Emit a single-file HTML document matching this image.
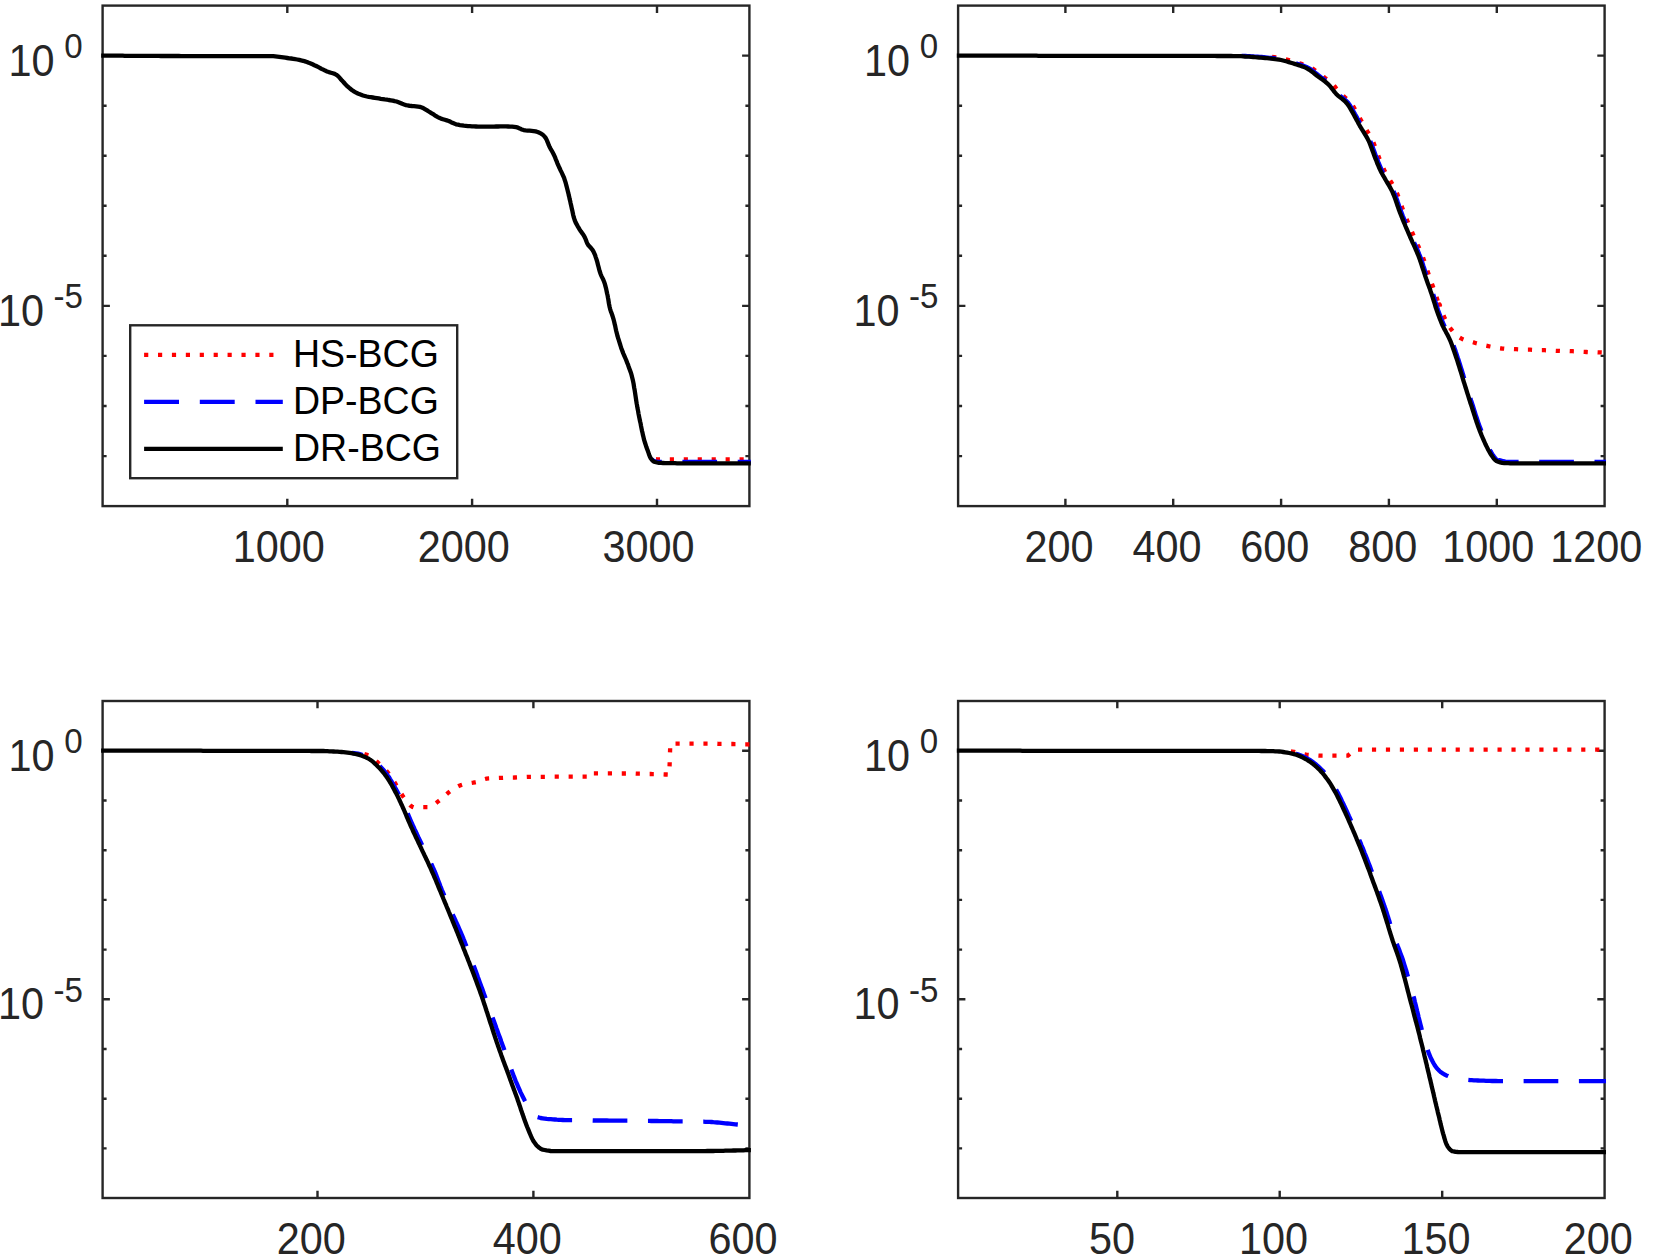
<!DOCTYPE html>
<html><head><meta charset="utf-8"><title>BCG convergence</title>
<style>html,body{margin:0;padding:0;background:#fff;overflow:hidden}body{width:1661px;height:1257px;position:relative}svg text{font-family:"Liberation Sans",Arial,Helvetica,sans-serif}</style>
</head><body>
<svg width="1661" height="1257" viewBox="0 0 1661 1257" style="display:block;position:absolute;left:0;top:0">
<rect width="1661" height="1257" fill="#fff"/>
<clipPath id="c0"><rect x="101.1" y="5.6" width="649.8" height="500.5"/></clipPath>
<path d="M287.3 506.1v-7.3M287.3 5.6v7.3M472.1 506.1v-7.3M472.1 5.6v7.3M657.0 506.1v-7.3M657.0 5.6v7.3M102.6 55.6h7.3M749.4 55.6h-7.3M102.6 105.7h4.0M749.4 105.7h-4.0M102.6 155.7h4.0M749.4 155.7h-4.0M102.6 205.8h4.0M749.4 205.8h-4.0M102.6 255.8h4.0M749.4 255.8h-4.0M102.6 305.9h7.3M749.4 305.9h-7.3M102.6 355.9h4.0M749.4 355.9h-4.0M102.6 406.0h4.0M749.4 406.0h-4.0M102.6 456.1h4.0M749.4 456.1h-4.0" stroke="#262626" stroke-width="2.40" fill="none"/>
<rect x="102.6" y="5.6" width="646.8" height="500.5" fill="none" stroke="#262626" stroke-width="2.40"/>
<g clip-path="url(#c0)" fill="none" stroke-width="4.30" stroke-linejoin="round">
<path d="M651.0 457.0 L652.7 458.2 L654.6 458.8 L656.7 459.2 L658.7 459.3 L660.7 459.3 L662.8 459.3 L664.8 459.3 L666.9 459.3 L668.9 459.3 L670.9 459.3 L673.0 459.3 L675.0 459.3 L677.0 459.3 L679.1 459.3 L681.1 459.3 L683.2 459.3 L685.2 459.3 L687.3 459.3 L689.3 459.3 L691.3 459.3 L693.4 459.3 L695.4 459.3 L697.5 459.3 L699.5 459.3 L701.6 459.3 L703.6 459.3 L705.7 459.3 L707.7 459.3 L709.8 459.3 L711.8 459.3 L713.9 459.3 L715.9 459.3 L718.0 459.3 L720.0 459.3 L722.1 459.3 L724.2 459.3 L726.2 459.3 L728.3 459.3 L730.3 459.3 L732.4 459.3 L734.5 459.3 L736.5 459.3 L738.6 459.3 L740.7 459.3 L742.7 459.3 L744.8 459.3 L746.9 459.3 L748.9 459.3 L749.4 459.3 L750.9 459.3" stroke="#f00" stroke-dasharray="4.17 9.78" stroke-dashoffset="8.59"/>
<path d="M651.5 459.0 L653.1 460.4 L654.9 461.3 L656.9 461.7 L658.9 462.0 L661.0 462.0 L663.0 462.0 L665.1 462.0 L667.1 462.0 L669.1 462.0 L671.2 462.0 L673.2 462.0 L675.2 462.0 L677.3 462.0 L679.3 462.0 L681.3 462.0 L683.4 462.0 L685.4 462.0 L687.4 462.0 L689.5 462.0 L691.5 462.0 L693.6 462.0 L695.6 462.0 L697.6 462.0 L699.7 462.0 L701.7 462.0 L703.8 462.0 L705.8 462.0 L707.9 462.0 L709.9 462.0 L712.0 462.0 L714.0 462.0 L716.1 462.0 L718.1 462.0 L720.1 462.0 L722.2 462.0 L724.3 462.0 L726.3 462.0 L728.4 462.0 L730.4 462.0 L732.5 462.0 L734.5 462.0 L736.6 462.0 L738.6 462.0 L740.7 462.0 L742.8 462.0 L744.8 462.0 L746.9 462.0 L748.9 462.0 L749.4 462.0 L750.9 462.0" stroke="#00f" stroke-dasharray="34.7 20.6" stroke-dashoffset="23.60"/>
<path d="M101.1 55.6 L102.6 55.6 L104.6 55.6 L106.6 55.6 L108.6 55.6 L110.6 55.7 L112.6 55.7 L114.7 55.7 L116.7 55.7 L118.7 55.7 L120.7 55.7 L122.7 55.7 L124.7 55.8 L126.7 55.8 L128.7 55.8 L130.7 55.8 L132.7 55.8 L134.7 55.8 L136.7 55.8 L138.8 55.8 L140.8 55.9 L142.8 55.9 L144.8 55.9 L146.8 55.9 L148.8 55.9 L150.8 55.9 L152.8 55.9 L154.8 55.9 L156.8 55.9 L158.8 55.9 L160.8 56.0 L162.9 56.0 L164.9 56.0 L166.9 56.0 L168.9 56.0 L170.9 56.0 L172.9 56.0 L174.9 56.0 L176.9 56.0 L178.9 56.0 L180.9 56.1 L182.9 56.1 L185.0 56.1 L187.0 56.1 L189.0 56.1 L191.0 56.1 L193.0 56.1 L195.0 56.1 L197.0 56.1 L199.0 56.1 L201.0 56.1 L203.0 56.1 L205.0 56.1 L207.1 56.1 L209.1 56.1 L211.1 56.1 L213.1 56.1 L215.1 56.1 L217.1 56.1 L219.1 56.1 L221.1 56.1 L223.1 56.1 L225.1 56.1 L227.2 56.1 L229.2 56.1 L231.2 56.1 L233.2 56.1 L235.2 56.1 L237.2 56.1 L239.2 56.1 L241.2 56.1 L243.2 56.1 L245.3 56.1 L247.3 56.1 L249.3 56.1 L251.3 56.1 L253.3 56.1 L255.3 56.1 L257.3 56.1 L259.3 56.1 L261.3 56.1 L263.3 56.1 L265.3 56.1 L267.3 56.1 L269.3 56.1 L271.3 56.1 L273.3 56.2 L275.3 56.4 L277.3 56.6 L279.3 56.8 L281.3 57.1 L283.3 57.4 L285.3 57.7 L287.3 58.0 L289.3 58.3 L291.3 58.5 L293.3 58.8 L295.3 59.2 L297.2 59.5 L299.2 59.9 L301.2 60.4 L303.1 60.8 L305.0 61.4 L306.9 62.0 L308.8 62.8 L310.7 63.5 L312.5 64.3 L314.4 65.2 L316.2 66.0 L318.0 66.9 L319.8 67.8 L321.5 68.8 L323.3 69.7 L325.1 70.6 L327.0 71.4 L328.9 72.1 L330.9 72.7 L332.8 73.3 L334.7 73.9 L336.4 74.8 L337.9 75.9 L339.3 77.4 L340.6 79.0 L342.0 80.6 L343.4 82.0 L344.7 83.5 L346.1 85.0 L347.5 86.4 L349.0 87.7 L350.6 89.0 L352.2 90.3 L353.9 91.4 L355.6 92.4 L357.3 93.2 L359.2 94.1 L361.1 94.8 L363.0 95.5 L364.9 96.0 L366.9 96.5 L368.8 96.9 L370.8 97.2 L372.8 97.5 L374.8 97.8 L376.8 98.1 L378.8 98.4 L380.8 98.8 L382.8 99.1 L384.8 99.4 L386.8 99.6 L388.7 100.0 L390.7 100.3 L392.7 100.6 L394.6 101.1 L396.6 101.5 L398.5 102.2 L400.4 103.0 L402.2 103.8 L404.1 104.5 L406.0 105.1 L408.0 105.5 L410.0 105.8 L412.0 106.0 L414.0 106.1 L416.0 106.3 L418.0 106.6 L419.9 106.9 L421.8 107.5 L423.6 108.3 L425.3 109.3 L427.1 110.4 L428.8 111.5 L430.6 112.6 L432.3 113.7 L434.0 114.7 L435.7 115.9 L437.4 116.9 L439.2 117.8 L441.0 118.6 L442.9 119.2 L444.8 119.8 L446.8 120.4 L448.7 121.0 L450.5 121.8 L452.3 122.8 L454.2 123.6 L456.0 124.3 L458.0 124.7 L459.9 125.1 L461.9 125.4 L463.9 125.7 L465.9 125.9 L467.9 126.1 L469.9 126.2 L471.9 126.3 L474.0 126.4 L476.0 126.5 L478.0 126.6 L480.0 126.6 L482.0 126.7 L484.0 126.7 L486.0 126.7 L488.0 126.7 L490.0 126.7 L492.0 126.6 L494.1 126.6 L496.1 126.5 L498.1 126.5 L500.1 126.4 L502.1 126.4 L504.1 126.4 L506.1 126.4 L508.1 126.5 L510.1 126.6 L512.2 126.7 L514.1 126.9 L516.1 127.2 L518.0 127.7 L519.9 128.6 L521.8 129.4 L523.7 130.1 L525.6 130.4 L527.6 130.6 L529.6 130.7 L531.6 130.9 L533.6 131.1 L535.6 131.4 L537.6 132.0 L539.5 132.8 L541.2 133.7 L542.8 134.8 L544.3 136.2 L545.6 137.9 L546.5 139.5 L547.3 141.4 L548.1 143.3 L548.8 145.2 L549.6 147.0 L550.6 148.8 L551.6 150.5 L552.6 152.3 L553.5 154.0 L554.4 155.9 L555.2 157.7 L555.9 159.6 L556.7 161.4 L557.4 163.3 L558.2 165.2 L559.0 167.0 L559.9 168.8 L560.7 170.6 L561.6 172.4 L562.5 174.3 L563.3 176.1 L564.1 177.9 L564.7 179.8 L565.3 181.7 L565.9 183.7 L566.4 185.6 L566.9 187.6 L567.4 189.5 L567.9 191.5 L568.4 193.4 L568.8 195.4 L569.3 197.3 L569.7 199.3 L570.2 201.2 L570.6 203.2 L571.1 205.2 L571.5 207.1 L571.9 209.1 L572.4 211.1 L572.8 213.0 L573.2 215.0 L573.7 217.0 L574.3 218.9 L574.9 220.7 L575.7 222.6 L576.7 224.4 L577.6 226.1 L578.7 227.9 L579.7 229.6 L580.8 231.3 L582.0 232.9 L583.2 234.6 L584.2 236.2 L585.1 238.0 L585.9 239.9 L586.6 241.8 L587.4 243.7 L588.4 245.3 L589.8 246.8 L591.2 248.3 L592.5 249.9 L593.5 251.6 L594.3 253.4 L595.1 255.2 L595.7 257.1 L596.4 259.1 L597.0 261.0 L597.5 262.9 L598.0 264.9 L598.5 266.8 L599.0 268.8 L599.5 270.7 L600.1 272.6 L600.8 274.5 L601.6 276.3 L602.5 278.2 L603.4 280.0 L604.1 281.8 L604.8 283.7 L605.3 285.6 L605.8 287.6 L606.3 289.6 L606.7 291.5 L607.1 293.5 L607.6 295.5 L607.9 297.4 L608.3 299.4 L608.6 301.4 L608.9 303.4 L609.3 305.4 L609.7 307.3 L610.2 309.3 L610.8 311.2 L611.5 313.1 L612.2 315.0 L612.8 316.9 L613.4 318.8 L613.9 320.7 L614.4 322.7 L614.8 324.6 L615.3 326.6 L615.7 328.6 L616.1 330.5 L616.6 332.5 L617.1 334.4 L617.6 336.4 L618.2 338.3 L618.8 340.2 L619.4 342.1 L620.0 344.0 L620.6 346.0 L621.2 347.9 L621.9 349.8 L622.6 351.6 L623.3 353.5 L624.1 355.4 L624.9 357.2 L625.7 359.0 L626.5 360.9 L627.2 362.8 L628.0 364.6 L628.6 366.5 L629.3 368.4 L630.0 370.3 L630.7 372.2 L631.3 374.1 L631.8 376.1 L632.3 378.0 L632.8 380.0 L633.2 381.9 L633.6 383.9 L633.9 385.9 L634.2 387.9 L634.6 389.8 L634.9 391.8 L635.2 393.8 L635.5 395.8 L635.8 397.8 L636.1 399.8 L636.4 401.8 L636.7 403.7 L637.1 405.7 L637.4 407.7 L637.8 409.7 L638.2 411.6 L638.5 413.6 L638.9 415.6 L639.3 417.6 L639.7 419.5 L640.1 421.5 L640.6 423.5 L640.9 425.4 L641.3 427.4 L641.7 429.4 L642.1 431.3 L642.6 433.3 L643.0 435.3 L643.5 437.2 L643.9 439.2 L644.5 441.1 L645.1 443.0 L645.7 444.9 L646.3 446.8 L647.0 448.7 L647.7 450.6 L648.4 452.5 L649.0 454.5 L649.8 456.4 L650.6 458.2 L651.8 459.7 L653.3 461.2 L655.0 462.0 L657.0 462.5 L659.0 462.9 L661.0 462.9 L663.0 463.0 L665.0 463.1 L667.0 463.1 L669.0 463.1 L671.0 463.2 L673.0 463.2 L675.0 463.2 L677.1 463.3 L679.1 463.3 L681.1 463.3 L683.1 463.3 L685.1 463.3 L687.1 463.3 L689.1 463.3 L691.1 463.3 L693.2 463.3 L695.2 463.3 L697.2 463.3 L699.2 463.3 L701.2 463.3 L703.2 463.3 L705.2 463.3 L707.2 463.3 L709.2 463.3 L711.2 463.3 L713.2 463.3 L715.3 463.3 L717.3 463.3 L719.3 463.3 L721.3 463.3 L723.3 463.3 L725.3 463.3 L727.3 463.3 L729.3 463.3 L731.3 463.3 L733.3 463.3 L735.3 463.3 L737.3 463.3 L739.4 463.3 L741.4 463.3 L743.4 463.3 L745.4 463.3 L747.4 463.3 L749.4 463.3 L750.9 463.3" stroke="#000"/>
</g>
<text transform="translate(232.8 562.0) scale(0.993 1.045)" font-size="41.67" fill="#262626">1000</text>
<text transform="translate(417.7 562.0) scale(0.993 1.045)" font-size="41.67" fill="#262626">2000</text>
<text transform="translate(602.5 562.0) scale(0.993 1.045)" font-size="41.67" fill="#262626">3000</text>
<text transform="translate(64.2 58.1) scale(0.993 1.045)" font-size="33.33" fill="#262626">0</text>
<text transform="translate(8.5 75.5) scale(0.993 1.045)" font-size="41.67" fill="#262626">10</text>
<text transform="translate(53.6 308.4) scale(0.993 1.045)" font-size="33.33" fill="#262626">-5</text>
<text transform="translate(-2.1 325.8) scale(0.993 1.045)" font-size="41.67" fill="#262626">10</text>
<clipPath id="c1"><rect x="956.6" y="5.6" width="649.5" height="500.5"/></clipPath>
<path d="M1065.4 506.1v-7.3M1065.4 5.6v7.3M1173.2 506.1v-7.3M1173.2 5.6v7.3M1281.1 506.1v-7.3M1281.1 5.6v7.3M1388.9 506.1v-7.3M1388.9 5.6v7.3M1496.8 506.1v-7.3M1496.8 5.6v7.3M958.1 55.6h7.3M1604.6 55.6h-7.3M958.1 105.7h4.0M1604.6 105.7h-4.0M958.1 155.7h4.0M1604.6 155.7h-4.0M958.1 205.8h4.0M1604.6 205.8h-4.0M958.1 255.8h4.0M1604.6 255.8h-4.0M958.1 305.9h7.3M1604.6 305.9h-7.3M958.1 355.9h4.0M1604.6 355.9h-4.0M958.1 406.0h4.0M1604.6 406.0h-4.0M958.1 456.1h4.0M1604.6 456.1h-4.0" stroke="#262626" stroke-width="2.40" fill="none"/>
<rect x="958.1" y="5.6" width="646.5" height="500.5" fill="none" stroke="#262626" stroke-width="2.40"/>
<g clip-path="url(#c1)" fill="none" stroke-width="4.30" stroke-linejoin="round">
<path d="M1270.0 56.8 L1272.0 57.0 L1274.0 57.2 L1276.0 57.5 L1278.0 57.8 L1280.0 58.2 L1282.0 58.5 L1283.9 58.9 L1285.9 59.4 L1287.8 59.9 L1289.8 60.4 L1291.7 60.9 L1293.7 61.5 L1295.6 62.1 L1297.5 62.7 L1299.4 63.3 L1301.4 63.9 L1303.3 64.5 L1305.2 65.1 L1307.1 65.8 L1309.0 66.6 L1310.7 67.5 L1312.4 68.5 L1314.1 69.6 L1315.7 70.8 L1317.3 72.1 L1318.9 73.3 L1320.5 74.6 L1322.1 75.8 L1323.8 77.0 L1325.4 78.2 L1327.1 79.4 L1328.7 80.6 L1330.2 81.8 L1331.7 83.2 L1333.1 84.6 L1334.4 86.1 L1335.7 87.7 L1336.9 89.3 L1338.1 90.9 L1339.4 92.5 L1340.8 93.9 L1342.3 95.2 L1343.9 96.5 L1345.5 97.8 L1347.1 99.1 L1348.6 100.4 L1350.0 101.8 L1351.2 103.3 L1352.4 105.0 L1353.4 106.7 L1354.4 108.4 L1355.4 110.2 L1356.4 112.0 L1357.4 113.7 L1358.4 115.5 L1359.4 117.3 L1360.3 119.0 L1361.3 120.8 L1362.2 122.6 L1363.2 124.4 L1364.2 126.1 L1365.2 127.8 L1366.3 129.6 L1367.3 131.3 L1368.4 133.0 L1369.5 134.7 L1370.5 136.4 L1371.4 138.2 L1372.3 140.0 L1373.1 141.8 L1373.9 143.7 L1374.6 145.6 L1375.3 147.5 L1376.0 149.4 L1376.6 151.3 L1377.3 153.2 L1378.1 155.0 L1378.8 156.9 L1379.5 158.8 L1380.3 160.7 L1381.0 162.5 L1381.8 164.4 L1382.5 166.3 L1383.4 168.1 L1384.2 169.9 L1385.1 171.7 L1386.1 173.5 L1387.1 175.2 L1388.1 177.0 L1389.1 178.7 L1390.1 180.4 L1391.2 182.2 L1392.2 183.9 L1393.2 185.7 L1394.2 187.4 L1395.2 189.2 L1396.0 191.0 L1396.8 192.8 L1397.6 194.7 L1398.3 196.5 L1399.0 198.4 L1399.6 200.3 L1400.3 202.2 L1401.0 204.2 L1401.6 206.1 L1402.3 208.0 L1403.0 209.9 L1403.7 211.8 L1404.4 213.7 L1405.1 215.5 L1405.9 217.4 L1406.6 219.2 L1407.4 221.1 L1408.2 223.0 L1409.0 224.8 L1409.8 226.7 L1410.6 228.5 L1411.3 230.4 L1412.1 232.2 L1412.9 234.1 L1413.7 235.9 L1414.5 237.8 L1415.3 239.6 L1416.2 241.5 L1417.0 243.3 L1417.8 245.1 L1418.7 247.0 L1419.5 248.8 L1420.3 250.6 L1421.1 252.5 L1421.8 254.4 L1422.6 256.2 L1423.2 258.1 L1423.9 260.0 L1424.6 261.9 L1425.2 263.8 L1425.8 265.7 L1426.4 267.7 L1427.0 269.6 L1427.7 271.5 L1428.3 273.4 L1428.9 275.3 L1429.6 277.2 L1430.2 279.1 L1430.9 281.0 L1431.6 282.9 L1432.3 284.8 L1433.0 286.7 L1433.7 288.6 L1434.3 290.5 L1435.0 292.4 L1435.6 294.3 L1436.3 296.5 L1437.1 299.0 L1437.9 301.6 L1438.7 304.0 L1439.3 306.1 L1439.8 307.7 L1440.1 308.6 L1440.0 308.1 L1439.7 305.3 L1439.6 304.5 L1439.9 305.3 L1440.4 306.9 L1441.2 309.0 L1442.0 311.4 L1442.9 313.9 L1443.9 316.3 L1444.7 318.3 L1445.6 320.1 L1446.5 321.9 L1447.5 323.7 L1448.5 325.5 L1449.6 327.2 L1450.8 328.8 L1452.0 330.3 L1453.3 331.9 L1454.7 333.4 L1456.2 334.8 L1457.8 336.2 L1459.4 337.4 L1461.1 338.4 L1462.8 339.2 L1464.6 339.9 L1466.5 340.6 L1468.5 341.1 L1470.5 341.7 L1472.5 342.2 L1474.5 342.7 L1476.4 343.3 L1478.4 343.8 L1480.3 344.3 L1482.3 344.8 L1484.2 345.3 L1486.2 345.7 L1488.1 346.1 L1490.1 346.5 L1492.1 346.9 L1494.1 347.3 L1496.1 347.7 L1498.0 348.0 L1500.0 348.3 L1502.0 348.5 L1504.0 348.6 L1506.0 348.8 L1508.1 348.9 L1510.1 349.0 L1512.1 349.0 L1514.1 349.1 L1516.1 349.2 L1518.1 349.3 L1520.1 349.4 L1522.1 349.4 L1524.2 349.5 L1526.2 349.6 L1528.2 349.6 L1530.2 349.7 L1532.2 349.8 L1534.2 349.9 L1536.2 349.9 L1538.2 350.0 L1540.2 350.1 L1542.3 350.1 L1544.3 350.2 L1546.3 350.3 L1548.3 350.4 L1550.3 350.5 L1552.3 350.6 L1554.3 350.7 L1556.3 350.8 L1558.3 350.8 L1560.4 350.9 L1562.4 350.9 L1564.4 351.0 L1566.4 351.0 L1568.4 351.1 L1570.4 351.2 L1572.4 351.2 L1574.4 351.3 L1576.4 351.5 L1578.5 351.6 L1580.5 351.7 L1582.5 351.8 L1584.5 351.9 L1586.5 352.0 L1588.5 352.1 L1590.5 352.2 L1592.5 352.2 L1594.5 352.3 L1596.6 352.3 L1598.6 352.4 L1600.6 352.4 L1602.6 352.5 L1604.6 352.6 L1606.1 352.6" stroke="#f00" stroke-dasharray="4.17 9.78" stroke-dashoffset="11.89"/>
<path d="M1237.4 55.6 L1239.4 55.7 L1241.4 55.8 L1243.4 55.9 L1245.4 56.0 L1247.5 56.1 L1249.5 56.2 L1251.5 56.3 L1253.5 56.5 L1255.5 56.6 L1257.5 56.7 L1259.5 56.9 L1261.5 57.0 L1263.5 57.2 L1265.5 57.4 L1267.5 57.6 L1269.6 57.8 L1271.6 58.0 L1273.6 58.2 L1275.5 58.4 L1277.5 58.7 L1279.5 59.0 L1281.5 59.3 L1283.4 59.7 L1285.4 60.2 L1287.3 60.8 L1289.3 61.4 L1291.2 62.0 L1293.1 62.6 L1295.1 63.2 L1297.0 63.7 L1298.9 64.3 L1300.9 64.9 L1302.8 65.6 L1304.7 66.3 L1306.5 67.0 L1308.3 67.9 L1310.0 68.9 L1311.7 70.0 L1313.3 71.2 L1314.9 72.5 L1316.5 73.7 L1318.1 75.0 L1319.7 76.2 L1321.3 77.4 L1323.0 78.6 L1324.6 79.8 L1326.2 81.0 L1327.8 82.2 L1329.3 83.6 L1330.7 84.9 L1332.0 86.5 L1333.3 88.1 L1334.5 89.7 L1335.7 91.3 L1337.0 92.8 L1338.4 94.3 L1339.9 95.6 L1341.5 96.9 L1343.1 98.2 L1344.7 99.5 L1346.2 100.8 L1347.6 102.2 L1348.8 103.7 L1350.0 105.3 L1351.0 107.0 L1352.0 108.8 L1353.0 110.6 L1354.0 112.3 L1355.0 114.1 L1356.0 115.8 L1357.0 117.6 L1357.9 119.4 L1358.9 121.2 L1359.8 122.9 L1360.8 124.7 L1361.8 126.4 L1362.8 128.2 L1363.9 129.9 L1364.9 131.6 L1366.0 133.3 L1367.1 135.0 L1368.1 136.8 L1369.0 138.5 L1369.9 140.3 L1370.7 142.2 L1371.5 144.0 L1372.2 145.9 L1372.9 147.8 L1373.6 149.7 L1374.3 151.6 L1375.0 153.5 L1375.7 155.4 L1376.4 157.2 L1377.2 159.1 L1377.9 161.0 L1378.6 162.9 L1379.4 164.7 L1380.2 166.6 L1381.0 168.4 L1381.8 170.2 L1382.7 172.0 L1383.7 173.8 L1384.7 175.5 L1385.7 177.3 L1386.7 179.0 L1387.7 180.8 L1388.8 182.5 L1389.8 184.2 L1390.8 186.0 L1391.8 187.7 L1392.8 189.5 L1393.6 191.3 L1394.4 193.1 L1395.2 195.0 L1395.9 196.8 L1396.6 198.7 L1397.3 200.6 L1397.9 202.5 L1398.6 204.5 L1399.2 206.4 L1399.9 208.3 L1400.6 210.2 L1401.3 212.1 L1402.0 213.9 L1402.7 215.8 L1403.5 217.7 L1404.3 219.5 L1405.0 221.4 L1405.8 223.3 L1406.6 225.1 L1407.4 227.0 L1408.2 228.8 L1409.0 230.7 L1409.7 232.5 L1410.5 234.4 L1411.3 236.2 L1412.1 238.1 L1412.9 239.9 L1413.8 241.7 L1414.6 243.6 L1415.5 245.4 L1416.3 247.2 L1417.1 249.1 L1417.9 250.9 L1418.7 252.8 L1419.4 254.6 L1420.2 256.5 L1420.9 258.4 L1421.5 260.3 L1422.2 262.2 L1422.8 264.1 L1423.4 266.0 L1424.1 267.9 L1424.7 269.8 L1425.3 271.8 L1425.9 273.7 L1426.5 275.6 L1427.2 277.5 L1427.9 279.4 L1428.5 281.3 L1429.2 283.2 L1429.9 285.1 L1430.6 287.0 L1431.3 288.9 L1432.0 290.8 L1432.6 292.7 L1433.3 294.6 L1433.9 296.5 L1434.5 298.4 L1435.0 300.3 L1435.6 302.3 L1436.2 304.2 L1436.8 306.1 L1437.4 308.0 L1438.0 309.9 L1438.7 311.8 L1439.4 313.7 L1440.1 315.6 L1440.8 317.5 L1441.5 319.4 L1442.3 321.2 L1443.1 323.1 L1443.9 324.9 L1444.7 326.7 L1445.7 328.5 L1446.6 330.3 L1447.6 332.1 L1448.5 333.9 L1449.4 335.7 L1450.3 337.5 L1451.2 339.3 L1451.9 341.1 L1452.7 343.0 L1453.4 344.9 L1454.0 346.8 L1454.7 348.7 L1455.4 350.6 L1456.0 352.5 L1456.7 354.4 L1457.3 356.3 L1457.9 358.2 L1458.6 360.1 L1459.2 362.1 L1459.8 364.0 L1460.4 365.9 L1461.0 367.8 L1461.6 369.7 L1462.2 371.7 L1462.8 373.6 L1463.3 375.5 L1463.9 377.4 L1464.5 379.4 L1465.1 381.3 L1465.7 383.2 L1466.3 385.1 L1466.9 387.0 L1467.5 389.0 L1468.1 390.9 L1468.7 392.8 L1469.3 394.7 L1469.9 396.6 L1470.5 398.6 L1471.1 400.5 L1471.8 402.4 L1472.4 404.3 L1473.0 406.2 L1473.6 408.1 L1474.2 410.1 L1474.8 412.0 L1475.4 413.9 L1476.0 415.8 L1476.7 417.7 L1477.3 419.7 L1477.9 421.6 L1478.6 423.5 L1479.3 425.4 L1480.0 427.2 L1480.7 429.1 L1481.4 431.0 L1482.1 432.9 L1482.9 434.8 L1483.6 436.6 L1484.4 438.5 L1485.2 440.3 L1486.1 442.2 L1486.9 444.0 L1487.8 445.8 L1488.7 447.6 L1489.6 449.4 L1490.6 451.2 L1491.6 452.9 L1492.7 454.6 L1493.8 456.2 L1495.2 458.1 L1496.7 459.9 L1498.0 460.7 L1499.2 460.1 L1501.1 460.6 L1503.2 461.2 L1505.4 461.6 L1507.4 461.8 L1509.4 461.8 L1511.4 461.9 L1513.4 461.9 L1515.4 462.0 L1517.5 462.0 L1519.5 462.0 L1521.5 462.0 L1523.5 462.0 L1525.5 462.0 L1527.5 462.0 L1529.5 462.0 L1531.6 462.0 L1533.6 462.0 L1535.6 462.0 L1537.6 462.0 L1539.6 462.0 L1541.6 462.0 L1543.6 462.0 L1545.6 462.0 L1547.6 462.0 L1549.7 462.0 L1551.7 462.0 L1553.7 462.0 L1555.7 462.0 L1557.7 462.0 L1559.7 462.0 L1561.7 462.0 L1563.7 462.0 L1565.8 462.0 L1567.8 462.0 L1569.8 462.0 L1571.8 462.0 L1573.8 462.0 L1575.8 462.0 L1577.8 462.0 L1579.8 462.0 L1581.9 462.0 L1583.9 462.0 L1585.9 462.0 L1587.9 462.0 L1589.9 462.0 L1591.9 462.0 L1593.9 462.0 L1595.9 462.0 L1598.0 462.0 L1600.0 462.0 L1602.0 462.0 L1604.0 462.0 L1604.6 462.0 L1606.1 462.0" stroke="#00f" stroke-dasharray="34.7 20.6" stroke-dashoffset="51.22"/>
<path d="M956.6 55.7 L958.1 55.7 L960.1 55.7 L962.1 55.7 L964.1 55.7 L966.1 55.7 L968.1 55.7 L970.1 55.7 L972.2 55.7 L974.2 55.7 L976.2 55.7 L978.2 55.7 L980.2 55.7 L982.2 55.7 L984.2 55.7 L986.2 55.7 L988.2 55.7 L990.2 55.7 L992.2 55.7 L994.2 55.7 L996.2 55.7 L998.2 55.7 L1000.3 55.7 L1002.3 55.7 L1004.3 55.7 L1006.3 55.7 L1008.3 55.7 L1010.3 55.7 L1012.3 55.7 L1014.3 55.7 L1016.3 55.7 L1018.3 55.7 L1020.3 55.7 L1022.3 55.7 L1024.3 55.7 L1026.3 55.7 L1028.4 55.7 L1030.4 55.7 L1032.4 55.7 L1034.4 55.7 L1036.4 55.7 L1038.4 55.8 L1040.4 55.8 L1042.4 55.8 L1044.4 55.8 L1046.4 55.8 L1048.4 55.8 L1050.4 55.8 L1052.4 55.8 L1054.5 55.8 L1056.5 55.8 L1058.5 55.8 L1060.5 55.8 L1062.5 55.8 L1064.5 55.8 L1066.5 55.8 L1068.5 55.8 L1070.5 55.8 L1072.5 55.8 L1074.5 55.8 L1076.5 55.8 L1078.5 55.8 L1080.5 55.8 L1082.6 55.8 L1084.6 55.8 L1086.6 55.8 L1088.6 55.8 L1090.6 55.8 L1092.6 55.8 L1094.6 55.8 L1096.6 55.8 L1098.6 55.8 L1100.6 55.8 L1102.6 55.8 L1104.6 55.8 L1106.6 55.8 L1108.7 55.8 L1110.7 55.8 L1112.7 55.8 L1114.7 55.8 L1116.7 55.8 L1118.7 55.8 L1120.7 55.8 L1122.7 55.8 L1124.7 55.8 L1126.7 55.8 L1128.7 55.8 L1130.7 55.8 L1132.7 55.8 L1134.7 55.8 L1136.8 55.8 L1138.8 55.8 L1140.8 55.8 L1142.8 55.8 L1144.8 55.8 L1146.8 55.8 L1148.8 55.8 L1150.8 55.8 L1152.8 55.8 L1154.8 55.8 L1156.8 55.8 L1158.8 55.8 L1160.8 55.8 L1162.8 55.8 L1164.9 55.9 L1166.9 55.9 L1168.9 55.9 L1170.9 55.9 L1172.9 55.9 L1174.9 55.9 L1176.9 55.9 L1178.9 55.9 L1180.9 55.9 L1182.9 55.9 L1184.9 55.9 L1186.9 55.9 L1188.9 55.9 L1191.0 55.9 L1193.0 55.9 L1195.0 55.9 L1197.0 55.9 L1199.0 55.9 L1201.0 55.9 L1203.0 55.9 L1205.0 55.9 L1207.0 55.9 L1209.0 55.9 L1211.0 55.9 L1213.0 55.9 L1215.0 55.9 L1217.0 56.0 L1219.1 56.0 L1221.1 56.0 L1223.1 56.0 L1225.1 56.0 L1227.1 56.0 L1229.1 56.0 L1231.1 56.0 L1233.1 56.1 L1235.1 56.1 L1237.1 56.1 L1239.1 56.2 L1241.1 56.2 L1243.1 56.3 L1245.1 56.5 L1247.1 56.6 L1249.1 56.7 L1251.2 56.9 L1253.2 57.0 L1255.2 57.2 L1257.2 57.3 L1259.2 57.5 L1261.2 57.6 L1263.2 57.8 L1265.2 58.0 L1267.2 58.1 L1269.2 58.4 L1271.2 58.6 L1273.2 58.8 L1275.2 59.1 L1277.1 59.3 L1279.1 59.6 L1281.1 60.0 L1283.0 60.5 L1285.0 61.0 L1286.9 61.5 L1288.8 62.1 L1290.8 62.7 L1292.7 63.3 L1294.6 63.9 L1296.5 64.5 L1298.5 65.1 L1300.4 65.7 L1302.3 66.4 L1304.2 67.1 L1306.0 67.9 L1307.7 68.8 L1309.4 69.8 L1311.0 71.0 L1312.7 72.2 L1314.3 73.5 L1315.8 74.7 L1317.4 76.0 L1319.1 77.2 L1320.7 78.4 L1322.4 79.5 L1324.0 80.7 L1325.6 82.0 L1327.1 83.2 L1328.6 84.6 L1329.9 86.0 L1331.2 87.6 L1332.4 89.2 L1333.6 90.8 L1334.9 92.4 L1336.2 93.9 L1337.6 95.3 L1339.2 96.6 L1340.8 97.9 L1342.4 99.1 L1343.9 100.4 L1345.4 101.8 L1346.7 103.2 L1347.9 104.8 L1349.0 106.4 L1350.1 108.1 L1351.1 109.9 L1352.1 111.7 L1353.1 113.4 L1354.1 115.2 L1355.0 116.9 L1356.0 118.7 L1356.9 120.5 L1357.9 122.2 L1358.8 124.0 L1359.8 125.8 L1360.8 127.5 L1361.8 129.2 L1362.9 130.9 L1364.0 132.7 L1365.0 134.4 L1366.1 136.1 L1367.1 137.8 L1368.0 139.6 L1368.9 141.4 L1369.7 143.2 L1370.4 145.1 L1371.1 146.9 L1371.8 148.8 L1372.5 150.7 L1373.2 152.6 L1373.9 154.5 L1374.6 156.4 L1375.3 158.3 L1376.1 160.1 L1376.8 162.0 L1377.5 163.9 L1378.3 165.7 L1379.1 167.6 L1379.9 169.4 L1380.8 171.2 L1381.7 173.0 L1382.7 174.8 L1383.7 176.5 L1384.7 178.2 L1385.7 180.0 L1386.7 181.7 L1387.7 183.4 L1388.8 185.2 L1389.8 186.9 L1390.8 188.7 L1391.7 190.4 L1392.5 192.2 L1393.3 194.1 L1394.1 195.9 L1394.8 197.8 L1395.5 199.7 L1396.1 201.6 L1396.8 203.5 L1397.4 205.4 L1398.1 207.3 L1398.7 209.2 L1399.4 211.1 L1400.1 213.0 L1400.9 214.8 L1401.6 216.7 L1402.4 218.6 L1403.1 220.4 L1403.9 222.3 L1404.7 224.1 L1405.4 226.0 L1406.2 227.8 L1407.0 229.7 L1407.8 231.5 L1408.6 233.4 L1409.4 235.2 L1410.2 237.1 L1411.0 238.9 L1411.8 240.7 L1412.6 242.6 L1413.5 244.4 L1414.3 246.2 L1415.1 248.0 L1415.9 249.9 L1416.7 251.7 L1417.5 253.6 L1418.3 255.4 L1419.0 257.3 L1419.7 259.2 L1420.3 261.1 L1421.0 263.0 L1421.6 264.9 L1422.2 266.8 L1422.8 268.7 L1423.5 270.6 L1424.1 272.5 L1424.7 274.4 L1425.3 276.3 L1426.0 278.2 L1426.6 280.1 L1427.3 282.0 L1428.0 283.9 L1428.7 285.8 L1429.4 287.7 L1430.1 289.6 L1430.7 291.5 L1431.4 293.4 L1432.0 295.3 L1432.6 297.2 L1433.2 299.1 L1433.8 301.0 L1434.4 303.0 L1435.0 304.9 L1435.5 306.8 L1436.2 308.7 L1436.8 310.6 L1437.5 312.5 L1438.2 314.4 L1438.9 316.3 L1439.6 318.1 L1440.3 320.0 L1441.1 321.9 L1441.8 323.7 L1442.6 325.6 L1443.5 327.4 L1444.4 329.2 L1445.4 330.9 L1446.3 332.7 L1447.3 334.5 L1448.2 336.3 L1449.1 338.1 L1449.9 339.9 L1450.7 341.7 L1451.4 343.6 L1452.1 345.5 L1452.8 347.4 L1453.4 349.3 L1454.1 351.2 L1454.7 353.1 L1455.4 355.0 L1456.0 356.9 L1456.7 358.8 L1457.3 360.7 L1457.9 362.6 L1458.5 364.5 L1459.1 366.4 L1459.7 368.4 L1460.3 370.3 L1460.9 372.2 L1461.5 374.1 L1462.1 376.0 L1462.6 377.9 L1463.2 379.9 L1463.8 381.8 L1464.4 383.7 L1465.0 385.6 L1465.6 387.5 L1466.2 389.4 L1466.8 391.4 L1467.4 393.3 L1468.0 395.2 L1468.6 397.1 L1469.2 399.0 L1469.8 400.9 L1470.4 402.9 L1471.1 404.8 L1471.7 406.7 L1472.3 408.6 L1472.9 410.5 L1473.5 412.4 L1474.1 414.3 L1474.7 416.2 L1475.3 418.2 L1476.0 420.1 L1476.6 422.0 L1477.3 423.9 L1477.9 425.8 L1478.6 427.6 L1479.3 429.5 L1480.0 431.4 L1480.8 433.3 L1481.5 435.1 L1482.3 437.0 L1483.1 438.8 L1483.9 440.7 L1484.7 442.5 L1485.5 444.3 L1486.4 446.1 L1487.3 447.9 L1488.2 449.7 L1489.2 451.5 L1490.2 453.3 L1491.3 455.0 L1492.4 456.6 L1493.6 458.3 L1495.0 459.9 L1496.5 461.1 L1498.2 461.8 L1500.2 462.4 L1502.2 462.9 L1504.2 463.1 L1506.2 463.2 L1508.2 463.2 L1510.2 463.3 L1512.2 463.3 L1514.2 463.4 L1516.3 463.4 L1518.3 463.4 L1520.3 463.4 L1522.3 463.4 L1524.3 463.4 L1526.3 463.4 L1528.3 463.4 L1530.3 463.4 L1532.3 463.4 L1534.3 463.4 L1536.3 463.4 L1538.4 463.4 L1540.4 463.4 L1542.4 463.4 L1544.4 463.4 L1546.4 463.4 L1548.4 463.4 L1550.4 463.4 L1552.4 463.4 L1554.4 463.4 L1556.4 463.4 L1558.4 463.4 L1560.4 463.4 L1562.4 463.4 L1564.5 463.4 L1566.5 463.4 L1568.5 463.4 L1570.5 463.4 L1572.5 463.4 L1574.5 463.4 L1576.5 463.4 L1578.5 463.4 L1580.5 463.4 L1582.5 463.4 L1584.5 463.4 L1586.5 463.4 L1588.5 463.4 L1590.5 463.4 L1592.6 463.4 L1594.6 463.4 L1596.6 463.4 L1598.6 463.4 L1600.6 463.4 L1602.6 463.4 L1604.6 463.4 L1606.1 463.4" stroke="#000"/>
</g>
<text transform="translate(1024.6 562.0) scale(0.993 1.045)" font-size="41.67" fill="#262626">200</text>
<text transform="translate(1132.5 562.0) scale(0.993 1.045)" font-size="41.67" fill="#262626">400</text>
<text transform="translate(1240.3 562.0) scale(0.993 1.045)" font-size="41.67" fill="#262626">600</text>
<text transform="translate(1348.2 562.0) scale(0.993 1.045)" font-size="41.67" fill="#262626">800</text>
<text transform="translate(1442.3 562.0) scale(0.993 1.045)" font-size="41.67" fill="#262626">1000</text>
<text transform="translate(1550.2 562.0) scale(0.993 1.045)" font-size="41.67" fill="#262626">1200</text>
<text transform="translate(919.7 58.1) scale(0.993 1.045)" font-size="33.33" fill="#262626">0</text>
<text transform="translate(864.0 75.5) scale(0.993 1.045)" font-size="41.67" fill="#262626">10</text>
<text transform="translate(909.1 308.4) scale(0.993 1.045)" font-size="33.33" fill="#262626">-5</text>
<text transform="translate(853.4 325.8) scale(0.993 1.045)" font-size="41.67" fill="#262626">10</text>
<clipPath id="c2"><rect x="101.1" y="701.0" width="649.8" height="497.0"/></clipPath>
<path d="M317.5 1198.1v-7.3M317.5 701.0v7.3M533.4 1198.1v-7.3M533.4 701.0v7.3M102.6 750.8h7.3M749.4 750.8h-7.3M102.6 800.5h4.0M749.4 800.5h-4.0M102.6 850.2h4.0M749.4 850.2h-4.0M102.6 899.9h4.0M749.4 899.9h-4.0M102.6 949.6h4.0M749.4 949.6h-4.0M102.6 999.3h7.3M749.4 999.3h-7.3M102.6 1049.0h4.0M749.4 1049.0h-4.0M102.6 1098.7h4.0M749.4 1098.7h-4.0M102.6 1148.4h4.0M749.4 1148.4h-4.0" stroke="#262626" stroke-width="2.40" fill="none"/>
<rect x="102.6" y="701.0" width="646.8" height="497.0" fill="none" stroke="#262626" stroke-width="2.40"/>
<g clip-path="url(#c2)" fill="none" stroke-width="4.30" stroke-linejoin="round">
<path d="M355.0 752.5 L357.1 752.6 L359.2 752.9 L361.2 753.3 L363.2 753.7 L365.1 754.3 L366.9 754.9 L368.7 755.5 L370.4 756.4 L372.1 757.6 L373.8 758.8 L375.3 760.2 L376.9 761.6 L378.4 763.0 L379.9 764.4 L381.4 765.7 L382.9 767.1 L384.3 768.6 L385.7 770.1 L387.1 771.6 L388.3 773.1 L389.6 774.7 L390.7 776.3 L391.9 778.0 L392.9 779.7 L394.0 781.5 L395.1 783.2 L396.1 784.9 L397.2 786.6 L398.3 788.4 L399.3 790.2 L400.3 791.9 L401.3 793.7 L402.4 795.4 L403.5 797.0 L404.7 798.6 L406.0 800.4 L407.4 802.2 L408.9 804.0 L410.4 805.5 L411.9 806.6 L413.6 807.2 L415.3 807.2 L417.3 807.2 L419.3 807.2 L421.5 807.2 L423.6 807.2 L425.7 807.2 L427.7 807.2 L429.5 807.0 L431.3 806.3 L433.1 805.3 L434.9 804.0 L436.6 802.7 L438.2 801.4 L439.9 800.1 L441.5 798.9 L443.0 797.6 L444.5 796.2 L446.0 794.7 L447.5 793.4 L449.0 792.1 L450.6 790.9 L452.3 789.8 L454.0 788.6 L455.8 787.6 L457.6 786.6 L459.4 785.7 L461.2 785.0 L463.1 784.4 L465.1 784.0 L467.1 783.6 L469.1 783.3 L471.1 783.0 L473.1 782.7 L475.1 782.3 L477.1 781.9 L479.0 781.2 L480.9 780.5 L482.8 779.7 L484.7 779.1 L486.7 778.6 L488.7 778.4 L490.7 778.3 L492.7 778.1 L494.7 778.0 L496.7 777.9 L498.8 777.9 L500.8 777.8 L502.8 777.8 L504.8 777.7 L506.8 777.7 L508.9 777.6 L510.9 777.6 L512.9 777.6 L514.9 777.5 L517.0 777.4 L519.0 777.3 L521.0 777.2 L523.0 777.1 L525.0 777.0 L527.0 776.9 L529.1 776.9 L531.1 776.9 L533.1 776.9 L535.1 776.8 L537.1 776.8 L539.2 776.8 L541.2 776.8 L543.2 776.8 L545.2 776.8 L547.2 776.7 L549.3 776.7 L551.3 776.7 L553.3 776.7 L555.3 776.7 L557.4 776.7 L559.4 776.7 L561.4 776.7 L563.4 776.7 L565.4 776.6 L567.5 776.6 L569.5 776.6 L571.5 776.6 L573.5 776.6 L575.5 776.6 L577.6 776.6 L579.6 776.6 L581.6 776.6 L583.6 776.6 L585.7 776.6 L587.7 776.6 L589.7 776.6 L590.3 773.4 L592.4 773.4 L594.5 773.4 L596.5 773.4 L598.6 773.4 L600.7 773.4 L602.8 773.4 L604.9 773.4 L606.9 773.4 L609.0 773.4 L611.1 773.4 L613.2 773.4 L615.3 773.4 L617.3 773.4 L619.4 773.4 L621.5 773.5 L623.6 773.5 L625.6 773.5 L627.7 773.5 L629.8 773.6 L631.9 773.6 L634.0 773.6 L636.0 773.7 L638.1 773.7 L640.2 773.7 L642.3 773.8 L644.4 773.8 L646.4 773.9 L648.5 774.0 L650.6 774.0 L652.7 774.1 L654.7 774.1 L656.8 774.2 L658.9 774.3 L661.0 774.3 L663.1 774.4 L665.1 774.5 L667.2 774.5 L669.3 774.6 L670.3 743.7 L672.4 743.7 L674.5 743.6 L676.5 743.6 L678.6 743.6 L680.7 743.6 L682.8 743.6 L684.9 743.6 L687.0 743.6 L689.0 743.6 L691.1 743.6 L693.2 743.6 L695.3 743.6 L697.4 743.6 L699.4 743.6 L701.5 743.6 L703.6 743.6 L705.7 743.7 L707.8 743.7 L709.8 743.7 L711.9 743.7 L714.0 743.7 L716.1 743.7 L718.2 743.8 L720.3 743.8 L722.3 743.8 L724.4 743.9 L726.5 743.9 L728.6 743.9 L730.7 744.0 L732.7 744.0 L734.8 744.1 L736.9 744.1 L739.0 744.2 L741.1 744.2 L743.2 744.3 L745.2 744.4 L747.3 744.4 L749.4 744.5 L750.9 744.5" stroke="#f00" stroke-dasharray="4.17 9.78" stroke-dashoffset="4.43"/>
<path d="M352.0 752.9 L354.0 753.1 L356.0 753.4 L358.0 753.7 L359.9 754.1 L361.9 754.7 L363.8 755.3 L365.7 756.0 L367.6 756.8 L369.4 757.7 L371.1 758.6 L372.7 759.7 L374.3 760.9 L375.9 762.3 L377.4 763.7 L378.8 765.1 L380.2 766.5 L381.6 768.0 L383.0 769.5 L384.3 771.0 L385.5 772.6 L386.8 774.2 L387.9 775.8 L389.1 777.4 L390.1 779.1 L391.2 780.8 L392.2 782.6 L393.2 784.3 L394.2 786.1 L395.2 787.8 L396.2 789.6 L397.1 791.3 L398.1 793.1 L399.0 794.9 L399.9 796.7 L400.8 798.5 L401.7 800.3 L402.6 802.1 L403.5 803.9 L404.3 805.7 L405.1 807.5 L405.9 809.4 L406.7 811.2 L407.5 813.1 L408.3 814.9 L409.1 816.8 L409.9 818.6 L410.7 820.5 L411.5 822.3 L412.3 824.1 L413.1 826.0 L414.0 827.8 L414.8 829.6 L415.7 831.4 L416.5 833.3 L417.4 835.1 L418.2 836.9 L419.1 838.7 L419.9 840.5 L420.8 842.3 L421.7 844.1 L422.5 846.0 L423.4 847.8 L424.3 849.6 L425.1 851.4 L426.0 853.2 L426.9 855.0 L427.8 856.8 L428.7 858.6 L429.6 860.4 L430.5 862.2 L431.3 864.0 L432.2 865.8 L433.0 867.7 L433.9 869.5 L434.7 871.3 L435.4 873.2 L436.2 875.0 L436.9 876.9 L437.6 878.8 L438.3 880.7 L439.0 882.6 L439.7 884.4 L440.4 886.3 L441.2 888.2 L441.9 890.0 L442.7 891.9 L443.5 893.7 L444.3 895.6 L445.1 897.4 L445.9 899.3 L446.7 901.1 L447.5 902.9 L448.3 904.8 L449.1 906.6 L450.0 908.4 L450.8 910.3 L451.6 912.1 L452.5 913.9 L453.3 915.7 L454.2 917.6 L455.0 919.4 L455.8 921.2 L456.7 923.1 L457.5 924.9 L458.3 926.7 L459.1 928.6 L459.9 930.4 L460.7 932.2 L461.5 934.1 L462.3 935.9 L463.1 937.8 L463.8 939.6 L464.6 941.5 L465.3 943.4 L466.0 945.2 L466.8 947.1 L467.5 949.0 L468.2 950.8 L468.9 952.7 L469.6 954.6 L470.3 956.5 L471.0 958.4 L471.7 960.2 L472.4 962.1 L473.1 964.0 L473.8 965.9 L474.5 967.8 L475.2 969.7 L475.9 971.6 L476.6 973.5 L477.3 975.3 L477.9 977.2 L478.6 979.1 L479.3 981.0 L480.0 982.9 L480.7 984.8 L481.4 986.7 L482.1 988.6 L482.8 990.4 L483.4 992.3 L484.1 994.2 L484.8 996.1 L485.5 998.0 L486.2 999.9 L486.9 1001.8 L487.6 1003.6 L488.3 1005.5 L488.9 1007.4 L489.6 1009.3 L490.3 1011.2 L491.0 1013.1 L491.7 1015.0 L492.3 1016.9 L493.0 1018.8 L493.7 1020.6 L494.4 1022.5 L495.1 1024.4 L495.8 1026.3 L496.4 1028.2 L497.1 1030.1 L497.8 1032.0 L498.5 1033.9 L499.2 1035.7 L499.9 1037.6 L500.6 1039.5 L501.2 1041.4 L501.9 1043.3 L502.6 1045.2 L503.3 1047.1 L504.0 1049.0 L504.6 1050.9 L505.3 1052.8 L506.0 1054.7 L506.6 1056.6 L507.3 1058.5 L508.0 1060.3 L508.6 1062.2 L509.3 1064.1 L510.0 1066.0 L510.7 1067.9 L511.4 1069.8 L512.1 1071.7 L512.8 1073.6 L513.5 1075.4 L514.3 1077.3 L515.0 1079.2 L515.7 1081.0 L516.5 1082.9 L517.3 1084.7 L518.1 1086.6 L518.9 1088.4 L519.7 1090.2 L520.5 1092.1 L521.4 1093.9 L522.3 1095.7 L523.2 1097.5 L524.1 1099.3 L525.0 1101.1 L525.9 1102.9 L526.8 1104.7 L527.8 1106.5 L528.8 1108.3 L529.8 1109.9 L531.0 1111.5 L532.3 1113.1 L533.8 1114.6 L535.4 1116.0 L537.0 1117.0 L538.8 1117.5 L540.6 1118.0 L542.6 1118.3 L544.7 1118.6 L546.8 1118.9 L548.8 1119.1 L550.8 1119.2 L552.8 1119.4 L554.8 1119.5 L556.8 1119.7 L558.8 1119.8 L560.8 1119.9 L562.8 1120.0 L564.8 1120.1 L566.9 1120.1 L568.9 1120.2 L570.9 1120.2 L572.9 1120.2 L574.9 1120.3 L576.9 1120.3 L578.9 1120.3 L580.9 1120.4 L582.9 1120.4 L584.9 1120.4 L586.9 1120.4 L588.9 1120.4 L590.9 1120.4 L592.9 1120.5 L595.0 1120.5 L597.0 1120.5 L599.0 1120.5 L601.0 1120.5 L603.0 1120.5 L605.0 1120.5 L607.0 1120.5 L609.0 1120.6 L611.0 1120.6 L613.0 1120.6 L615.0 1120.6 L617.0 1120.6 L619.1 1120.6 L621.1 1120.6 L623.1 1120.7 L625.1 1120.7 L627.1 1120.7 L629.1 1120.7 L631.1 1120.7 L633.1 1120.8 L635.1 1120.8 L637.1 1120.8 L639.1 1120.8 L641.1 1120.8 L643.1 1120.9 L645.2 1120.9 L647.2 1120.9 L649.2 1120.9 L651.2 1121.0 L653.2 1121.0 L655.2 1121.0 L657.2 1121.0 L659.2 1121.1 L661.2 1121.1 L663.2 1121.1 L665.2 1121.1 L667.2 1121.2 L669.3 1121.2 L671.3 1121.2 L673.3 1121.3 L675.3 1121.3 L677.3 1121.3 L679.3 1121.3 L681.3 1121.4 L683.3 1121.4 L685.3 1121.4 L687.3 1121.5 L689.3 1121.5 L691.3 1121.5 L693.3 1121.5 L695.4 1121.6 L697.4 1121.6 L699.4 1121.6 L701.4 1121.7 L703.4 1121.7 L705.4 1121.8 L707.4 1121.8 L709.4 1121.9 L711.4 1122.0 L713.4 1122.2 L715.4 1122.3 L717.4 1122.5 L719.4 1122.7 L721.4 1122.9 L723.4 1123.1 L725.4 1123.3 L727.4 1123.5 L729.4 1123.7 L731.4 1123.9 L733.4 1124.1 L735.4 1124.3 L737.4 1124.5 L739.4 1124.7 L741.4 1124.9 L743.4 1125.1 L745.4 1125.2 L747.4 1125.4 L749.4 1125.6 L750.9 1125.6" stroke="#00f" stroke-dasharray="34.7 20.6" stroke-dashoffset="23.71"/>
<path d="M101.1 750.7 L102.6 750.7 L104.6 750.7 L106.6 750.7 L108.6 750.7 L110.6 750.7 L112.6 750.7 L114.6 750.7 L116.7 750.7 L118.7 750.7 L120.7 750.7 L122.7 750.7 L124.7 750.7 L126.7 750.7 L128.7 750.7 L130.7 750.7 L132.7 750.7 L134.7 750.7 L136.7 750.7 L138.7 750.7 L140.7 750.7 L142.7 750.7 L144.8 750.7 L146.8 750.7 L148.8 750.7 L150.8 750.7 L152.8 750.7 L154.8 750.7 L156.8 750.7 L158.8 750.7 L160.8 750.7 L162.8 750.7 L164.8 750.7 L166.8 750.7 L168.8 750.7 L170.9 750.7 L172.9 750.7 L174.9 750.7 L176.9 750.7 L178.9 750.7 L180.9 750.7 L182.9 750.7 L184.9 750.7 L186.9 750.7 L188.9 750.7 L190.9 750.7 L192.9 750.7 L194.9 750.7 L196.9 750.7 L199.0 750.7 L201.0 750.7 L203.0 750.8 L205.0 750.8 L207.0 750.8 L209.0 750.8 L211.0 750.8 L213.0 750.8 L215.0 750.8 L217.0 750.8 L219.0 750.8 L221.0 750.8 L223.0 750.8 L225.1 750.8 L227.1 750.8 L229.1 750.8 L231.1 750.8 L233.1 750.8 L235.1 750.8 L237.1 750.8 L239.1 750.8 L241.1 750.8 L243.1 750.8 L245.1 750.8 L247.1 750.8 L249.1 750.8 L251.1 750.8 L253.2 750.8 L255.2 750.8 L257.2 750.8 L259.2 750.8 L261.2 750.8 L263.2 750.8 L265.2 750.8 L267.2 750.8 L269.2 750.8 L271.2 750.8 L273.2 750.8 L275.2 750.8 L277.2 750.8 L279.3 750.8 L281.3 750.8 L283.3 750.9 L285.3 750.9 L287.3 750.9 L289.3 750.9 L291.3 750.9 L293.3 750.9 L295.3 750.9 L297.3 750.9 L299.3 750.9 L301.3 750.9 L303.3 750.9 L305.4 750.9 L307.4 750.9 L309.4 750.9 L311.4 751.0 L313.4 751.0 L315.4 751.0 L317.4 751.0 L319.4 751.0 L321.4 751.0 L323.4 751.0 L325.4 751.1 L327.4 751.2 L329.4 751.3 L331.4 751.4 L333.5 751.5 L335.5 751.6 L337.5 751.7 L339.5 751.9 L341.5 752.0 L343.5 752.2 L345.5 752.4 L347.5 752.6 L349.5 752.9 L351.5 753.2 L353.4 753.6 L355.4 754.0 L357.3 754.4 L359.3 754.9 L361.2 755.5 L363.1 756.2 L365.0 756.9 L366.8 757.8 L368.6 758.7 L370.2 759.7 L371.8 760.9 L373.4 762.2 L374.9 763.6 L376.4 765.0 L377.8 766.4 L379.2 767.8 L380.6 769.3 L381.9 770.8 L383.2 772.4 L384.5 774.0 L385.7 775.6 L386.8 777.2 L387.9 778.9 L389.0 780.5 L390.1 782.3 L391.1 784.0 L392.1 785.8 L393.0 787.5 L394.0 789.3 L394.9 791.1 L395.9 792.8 L396.8 794.6 L397.7 796.4 L398.6 798.2 L399.4 800.0 L400.3 801.9 L401.1 803.7 L402.0 805.5 L402.8 807.3 L403.6 809.2 L404.4 811.0 L405.2 812.9 L406.0 814.7 L406.7 816.6 L407.5 818.4 L408.3 820.3 L409.1 822.1 L409.9 824.0 L410.7 825.8 L411.5 827.6 L412.4 829.4 L413.2 831.3 L414.0 833.1 L414.9 834.9 L415.7 836.7 L416.6 838.5 L417.5 840.4 L418.3 842.2 L419.2 844.0 L420.0 845.8 L420.9 847.6 L421.7 849.4 L422.6 851.3 L423.5 853.1 L424.3 854.9 L425.2 856.7 L426.0 858.5 L426.9 860.3 L427.8 862.1 L428.6 864.0 L429.4 865.8 L430.3 867.6 L431.1 869.4 L431.9 871.3 L432.7 873.1 L433.5 874.9 L434.3 876.8 L435.1 878.6 L435.9 880.5 L436.6 882.3 L437.4 884.2 L438.2 886.1 L438.9 887.9 L439.7 889.8 L440.5 891.6 L441.2 893.5 L442.0 895.3 L442.8 897.2 L443.5 899.0 L444.3 900.9 L445.1 902.8 L445.9 904.6 L446.6 906.5 L447.4 908.3 L448.2 910.2 L448.9 912.0 L449.7 913.9 L450.4 915.7 L451.2 917.6 L452.0 919.5 L452.7 921.3 L453.5 923.2 L454.2 925.0 L455.0 926.9 L455.8 928.7 L456.5 930.6 L457.3 932.5 L458.0 934.3 L458.8 936.2 L459.5 938.1 L460.2 939.9 L461.0 941.8 L461.7 943.7 L462.5 945.5 L463.2 947.4 L463.9 949.3 L464.7 951.1 L465.4 953.0 L466.1 954.9 L466.9 956.7 L467.6 958.6 L468.3 960.5 L469.1 962.3 L469.8 964.2 L470.5 966.1 L471.2 968.0 L472.0 969.8 L472.7 971.7 L473.4 973.6 L474.1 975.5 L474.8 977.3 L475.5 979.2 L476.2 981.1 L476.9 983.0 L477.6 984.9 L478.3 986.8 L479.0 988.6 L479.7 990.5 L480.3 992.4 L481.0 994.3 L481.7 996.2 L482.3 998.1 L483.0 1000.0 L483.6 1001.9 L484.2 1003.8 L484.9 1005.7 L485.5 1007.6 L486.1 1009.5 L486.7 1011.4 L487.4 1013.3 L488.0 1015.3 L488.6 1017.2 L489.2 1019.1 L489.8 1021.0 L490.4 1022.9 L491.1 1024.8 L491.7 1026.7 L492.3 1028.6 L492.9 1030.5 L493.5 1032.5 L494.2 1034.4 L494.8 1036.3 L495.4 1038.2 L496.1 1040.1 L496.7 1042.0 L497.4 1043.9 L498.0 1045.8 L498.7 1047.7 L499.3 1049.6 L500.0 1051.5 L500.7 1053.3 L501.3 1055.2 L502.0 1057.1 L502.7 1059.0 L503.4 1060.9 L504.1 1062.8 L504.8 1064.7 L505.5 1066.6 L506.2 1068.4 L506.9 1070.3 L507.6 1072.2 L508.3 1074.1 L509.0 1076.0 L509.7 1077.9 L510.3 1079.7 L511.0 1081.6 L511.7 1083.5 L512.4 1085.4 L513.1 1087.3 L513.8 1089.2 L514.5 1091.0 L515.2 1092.9 L515.9 1094.8 L516.6 1096.7 L517.3 1098.6 L517.9 1100.5 L518.6 1102.4 L519.2 1104.3 L519.9 1106.2 L520.5 1108.1 L521.1 1110.0 L521.8 1111.9 L522.4 1113.8 L523.1 1115.7 L523.7 1117.6 L524.4 1119.5 L525.1 1121.4 L525.8 1123.3 L526.5 1125.2 L527.2 1127.0 L528.0 1128.9 L528.7 1130.7 L529.5 1132.6 L530.3 1134.5 L531.1 1136.4 L532.0 1138.3 L532.9 1140.1 L533.9 1141.8 L535.0 1143.3 L536.2 1144.9 L537.7 1146.4 L539.3 1147.8 L541.0 1149.0 L542.7 1149.6 L544.5 1150.0 L546.5 1150.4 L548.5 1150.7 L550.6 1151.0 L552.7 1151.1 L554.7 1151.1 L556.7 1151.1 L558.7 1151.1 L560.7 1151.1 L562.7 1151.1 L564.7 1151.1 L566.7 1151.1 L568.7 1151.1 L570.7 1151.1 L572.7 1151.1 L574.7 1151.1 L576.7 1151.1 L578.7 1151.1 L580.7 1151.1 L582.7 1151.1 L584.7 1151.1 L586.7 1151.1 L588.7 1151.1 L590.7 1151.1 L592.7 1151.1 L594.7 1151.1 L596.7 1151.1 L598.7 1151.1 L600.7 1151.1 L602.7 1151.1 L604.7 1151.1 L606.8 1151.1 L608.8 1151.1 L610.8 1151.1 L612.8 1151.1 L614.8 1151.1 L616.8 1151.1 L618.8 1151.1 L620.8 1151.1 L622.8 1151.1 L624.8 1151.1 L626.9 1151.1 L628.9 1151.1 L630.9 1151.1 L632.9 1151.1 L634.9 1151.1 L636.9 1151.1 L638.9 1151.1 L640.9 1151.1 L642.9 1151.1 L645.0 1151.1 L647.0 1151.1 L649.0 1151.1 L651.0 1151.1 L653.0 1151.1 L655.0 1151.1 L657.0 1151.1 L659.0 1151.1 L661.0 1151.1 L663.1 1151.1 L665.1 1151.1 L667.1 1151.1 L669.1 1151.1 L671.1 1151.1 L673.1 1151.1 L675.1 1151.1 L677.1 1151.1 L679.1 1151.1 L681.1 1151.1 L683.2 1151.1 L685.2 1151.1 L687.2 1151.1 L689.2 1151.1 L691.2 1151.1 L693.2 1151.1 L695.2 1151.1 L697.2 1151.1 L699.2 1151.1 L701.2 1151.1 L703.2 1151.1 L705.2 1151.1 L707.3 1151.0 L709.3 1151.0 L711.3 1151.0 L713.3 1151.0 L715.3 1150.9 L717.3 1150.9 L719.3 1150.8 L721.3 1150.8 L723.3 1150.8 L725.3 1150.7 L727.3 1150.7 L729.3 1150.6 L731.3 1150.6 L733.3 1150.5 L735.4 1150.5 L737.4 1150.4 L739.4 1150.4 L741.4 1150.3 L743.4 1150.3 L745.4 1150.2 L747.4 1150.1 L749.4 1150.1 L750.9 1150.1" stroke="#000"/>
</g>
<text transform="translate(276.7 1254.0) scale(0.993 1.045)" font-size="41.67" fill="#262626">200</text>
<text transform="translate(492.7 1254.0) scale(0.993 1.045)" font-size="41.67" fill="#262626">400</text>
<text transform="translate(708.6 1254.0) scale(0.993 1.045)" font-size="41.67" fill="#262626">600</text>
<text transform="translate(64.2 753.3) scale(0.993 1.045)" font-size="33.33" fill="#262626">0</text>
<text transform="translate(8.5 770.7) scale(0.993 1.045)" font-size="41.67" fill="#262626">10</text>
<text transform="translate(53.6 1001.8) scale(0.993 1.045)" font-size="33.33" fill="#262626">-5</text>
<text transform="translate(-2.1 1019.2) scale(0.993 1.045)" font-size="41.67" fill="#262626">10</text>
<clipPath id="c3"><rect x="956.6" y="701.0" width="649.5" height="497.0"/></clipPath>
<path d="M1117.3 1198.1v-7.3M1117.3 701.0v7.3M1279.7 1198.1v-7.3M1279.7 701.0v7.3M1442.2 1198.1v-7.3M1442.2 701.0v7.3M958.1 750.8h7.3M1604.6 750.8h-7.3M958.1 800.5h4.0M1604.6 800.5h-4.0M958.1 850.2h4.0M1604.6 850.2h-4.0M958.1 899.9h4.0M1604.6 899.9h-4.0M958.1 949.6h4.0M1604.6 949.6h-4.0M958.1 999.3h7.3M1604.6 999.3h-7.3M958.1 1049.0h4.0M1604.6 1049.0h-4.0M958.1 1098.7h4.0M1604.6 1098.7h-4.0M958.1 1148.4h4.0M1604.6 1148.4h-4.0" stroke="#262626" stroke-width="2.40" fill="none"/>
<rect x="958.1" y="701.0" width="646.5" height="497.0" fill="none" stroke="#262626" stroke-width="2.40"/>
<g clip-path="url(#c3)" fill="none" stroke-width="4.30" stroke-linejoin="round">
<path d="M1285.0 751.0 L1286.8 751.1 L1288.6 751.2 L1290.4 751.4 L1292.2 751.6 L1294.0 751.8 L1295.7 752.3 L1297.5 752.8 L1299.3 753.2 L1301.0 753.6 L1302.8 754.0 L1304.6 754.4 L1306.3 754.7 L1308.1 754.9 L1309.9 755.1 L1311.7 755.2 L1313.5 755.3 L1315.3 755.4 L1317.2 755.5 L1319.0 755.6 L1320.8 755.6 L1322.6 755.6 L1324.4 755.6 L1326.2 755.6 L1328.0 755.6 L1329.8 755.6 L1331.6 755.6 L1333.4 755.6 L1335.2 755.6 L1337.0 755.6 L1338.9 755.6 L1340.7 755.6 L1342.5 755.6 L1344.3 755.6 L1346.1 755.6 L1347.9 755.6 L1354.7 749.6 L1604.6 749.7 L1606.1 749.7" stroke="#f00" stroke-dasharray="4.17 9.78" stroke-dashoffset="8.01"/>
<path d="M1280.0 751.2 L1282.0 751.3 L1284.1 751.5 L1286.1 751.8 L1288.1 752.1 L1290.0 752.4 L1292.0 752.8 L1293.9 753.2 L1295.9 753.7 L1297.8 754.3 L1299.7 755.0 L1301.6 755.8 L1303.5 756.6 L1305.3 757.5 L1307.1 758.4 L1308.8 759.3 L1310.5 760.4 L1312.2 761.5 L1313.8 762.7 L1315.4 763.9 L1317.0 765.3 L1318.5 766.6 L1320.0 768.0 L1321.4 769.4 L1322.8 770.8 L1324.2 772.3 L1325.4 773.8 L1326.7 775.4 L1327.9 777.0 L1329.1 778.6 L1330.3 780.3 L1331.4 782.0 L1332.5 783.7 L1333.6 785.4 L1334.6 787.1 L1335.7 788.8 L1336.6 790.6 L1337.6 792.3 L1338.6 794.1 L1339.5 795.9 L1340.4 797.7 L1341.3 799.5 L1342.1 801.3 L1343.0 803.2 L1343.9 805.0 L1344.7 806.8 L1345.6 808.6 L1346.4 810.5 L1347.3 812.3 L1348.1 814.1 L1348.9 815.9 L1349.8 817.8 L1350.6 819.6 L1351.4 821.4 L1352.2 823.3 L1353.0 825.1 L1353.8 827.0 L1354.6 828.8 L1355.4 830.7 L1356.2 832.5 L1357.0 834.4 L1357.8 836.2 L1358.6 838.1 L1359.3 839.9 L1360.1 841.8 L1360.9 843.7 L1361.6 845.5 L1362.4 847.4 L1363.2 849.2 L1363.9 851.1 L1364.6 853.0 L1365.4 854.9 L1366.1 856.7 L1366.9 858.6 L1367.6 860.5 L1368.3 862.3 L1369.0 864.2 L1369.8 866.1 L1370.5 868.0 L1371.2 869.9 L1371.9 871.7 L1372.6 873.6 L1373.3 875.5 L1374.0 877.4 L1374.7 879.3 L1375.4 881.2 L1376.1 883.0 L1376.8 884.9 L1377.5 886.8 L1378.2 888.7 L1378.9 890.6 L1379.6 892.5 L1380.3 894.4 L1381.0 896.3 L1381.7 898.2 L1382.3 900.1 L1383.0 902.0 L1383.7 903.9 L1384.3 905.8 L1385.0 907.7 L1385.6 909.6 L1386.3 911.5 L1386.9 913.4 L1387.5 915.3 L1388.1 917.2 L1388.7 919.1 L1389.3 921.0 L1389.9 923.0 L1390.5 924.9 L1391.2 926.8 L1391.8 928.7 L1392.4 930.6 L1393.0 932.6 L1393.6 934.5 L1394.2 936.4 L1394.9 938.3 L1395.5 940.2 L1396.2 942.1 L1396.9 944.0 L1397.6 945.9 L1398.3 947.7 L1399.1 949.6 L1399.8 951.5 L1400.5 953.4 L1401.2 955.2 L1401.9 957.1 L1402.6 959.0 L1403.2 960.9 L1403.8 962.9 L1404.4 964.8 L1405.0 966.7 L1405.6 968.6 L1406.2 970.5 L1406.8 972.5 L1407.3 974.4 L1407.9 976.3 L1408.5 978.3 L1409.0 980.2 L1409.6 982.1 L1410.1 984.1 L1410.7 986.0 L1411.2 987.9 L1411.8 989.9 L1412.3 991.8 L1412.8 993.8 L1413.3 995.7 L1413.9 997.6 L1414.4 999.6 L1414.8 1001.5 L1415.3 1003.5 L1415.8 1005.4 L1416.3 1007.4 L1416.8 1009.4 L1417.2 1011.3 L1417.7 1013.3 L1418.2 1015.2 L1418.6 1017.2 L1419.1 1019.1 L1419.6 1021.1 L1420.1 1023.0 L1420.6 1025.0 L1421.1 1026.9 L1421.6 1028.9 L1422.1 1030.8 L1422.6 1032.8 L1423.1 1034.7 L1423.6 1036.7 L1424.2 1038.6 L1424.7 1040.6 L1425.3 1042.5 L1425.8 1044.4 L1426.4 1046.3 L1427.1 1048.2 L1427.7 1050.1 L1428.4 1052.0 L1429.1 1053.9 L1429.9 1055.8 L1430.7 1057.7 L1431.6 1059.5 L1432.5 1061.3 L1433.4 1063.0 L1434.4 1064.7 L1435.6 1066.5 L1436.8 1068.1 L1438.1 1069.6 L1439.5 1071.0 L1441.0 1072.3 L1442.7 1073.4 L1444.5 1074.5 L1446.3 1075.4 L1448.1 1076.1 L1450.0 1076.9 L1451.9 1077.5 L1453.9 1078.0 L1455.9 1078.5 L1457.8 1078.8 L1459.8 1079.1 L1461.8 1079.3 L1463.8 1079.6 L1465.8 1079.8 L1467.8 1079.9 L1469.8 1080.1 L1471.8 1080.2 L1473.9 1080.3 L1475.9 1080.4 L1477.9 1080.5 L1479.9 1080.6 L1481.9 1080.7 L1483.9 1080.7 L1485.9 1080.8 L1487.9 1080.9 L1489.9 1080.9 L1492.0 1081.0 L1494.0 1081.0 L1496.0 1081.0 L1498.0 1081.1 L1500.0 1081.1 L1502.0 1081.1 L1504.0 1081.1 L1506.0 1081.1 L1508.0 1081.1 L1510.1 1081.1 L1512.1 1081.1 L1514.1 1081.1 L1516.1 1081.1 L1518.1 1081.1 L1520.1 1081.1 L1522.1 1081.1 L1524.1 1081.1 L1526.1 1081.1 L1528.2 1081.1 L1530.2 1081.1 L1532.2 1081.1 L1534.2 1081.1 L1536.2 1081.1 L1538.2 1081.1 L1540.2 1081.1 L1542.2 1081.1 L1544.2 1081.1 L1546.3 1081.1 L1548.3 1081.1 L1550.3 1081.1 L1552.3 1081.1 L1554.3 1081.1 L1556.3 1081.1 L1558.3 1081.1 L1560.3 1081.1 L1562.4 1081.1 L1564.4 1081.1 L1566.4 1081.1 L1568.4 1081.1 L1570.4 1081.1 L1572.4 1081.1 L1574.4 1081.1 L1576.4 1081.1 L1578.4 1081.1 L1580.5 1081.1 L1582.5 1081.1 L1584.5 1081.1 L1586.5 1081.1 L1588.5 1081.1 L1590.5 1081.1 L1592.5 1081.1 L1594.5 1081.1 L1596.6 1081.1 L1598.6 1081.1 L1600.6 1081.1 L1602.6 1081.1 L1604.6 1081.1 L1606.1 1081.1" stroke="#00f" stroke-dasharray="34.7 20.6" stroke-dashoffset="39.19"/>
<path d="M956.6 750.7 L958.1 750.7 L960.1 750.7 L962.1 750.7 L964.1 750.7 L966.1 750.7 L968.1 750.7 L970.1 750.7 L972.1 750.7 L974.2 750.7 L976.2 750.7 L978.2 750.7 L980.2 750.7 L982.2 750.7 L984.2 750.7 L986.2 750.7 L988.2 750.7 L990.2 750.7 L992.2 750.7 L994.2 750.7 L996.2 750.7 L998.2 750.7 L1000.2 750.7 L1002.3 750.7 L1004.3 750.7 L1006.3 750.7 L1008.3 750.7 L1010.3 750.7 L1012.3 750.7 L1014.3 750.7 L1016.3 750.7 L1018.3 750.7 L1020.3 750.7 L1022.3 750.8 L1024.3 750.8 L1026.3 750.8 L1028.3 750.8 L1030.3 750.8 L1032.4 750.8 L1034.4 750.8 L1036.4 750.8 L1038.4 750.8 L1040.4 750.8 L1042.4 750.8 L1044.4 750.8 L1046.4 750.8 L1048.4 750.8 L1050.4 750.8 L1052.4 750.8 L1054.4 750.8 L1056.4 750.8 L1058.4 750.8 L1060.5 750.8 L1062.5 750.8 L1064.5 750.8 L1066.5 750.8 L1068.5 750.8 L1070.5 750.8 L1072.5 750.8 L1074.5 750.8 L1076.5 750.8 L1078.5 750.8 L1080.5 750.8 L1082.5 750.8 L1084.5 750.8 L1086.5 750.8 L1088.6 750.8 L1090.6 750.8 L1092.6 750.8 L1094.6 750.8 L1096.6 750.8 L1098.6 750.8 L1100.6 750.8 L1102.6 750.8 L1104.6 750.8 L1106.6 750.8 L1108.6 750.8 L1110.6 750.8 L1112.6 750.8 L1114.6 750.8 L1116.6 750.8 L1118.7 750.8 L1120.7 750.8 L1122.7 750.8 L1124.7 750.8 L1126.7 750.8 L1128.7 750.8 L1130.7 750.8 L1132.7 750.8 L1134.7 750.8 L1136.7 750.8 L1138.7 750.8 L1140.7 750.8 L1142.7 750.8 L1144.7 750.8 L1146.8 750.8 L1148.8 750.8 L1150.8 750.8 L1152.8 750.8 L1154.8 750.8 L1156.8 750.8 L1158.8 750.8 L1160.8 750.8 L1162.8 750.8 L1164.8 750.8 L1166.8 750.8 L1168.8 750.8 L1170.8 750.8 L1172.8 750.8 L1174.8 750.8 L1176.9 750.8 L1178.9 750.8 L1180.9 750.8 L1182.9 750.8 L1184.9 750.8 L1186.9 750.8 L1188.9 750.8 L1190.9 750.8 L1192.9 750.8 L1194.9 750.8 L1196.9 750.8 L1198.9 750.8 L1200.9 750.8 L1202.9 750.8 L1205.0 750.8 L1207.0 750.8 L1209.0 750.8 L1211.0 750.8 L1213.0 750.8 L1215.0 750.8 L1217.0 750.8 L1219.0 750.8 L1221.0 750.8 L1223.0 750.8 L1225.0 750.8 L1227.0 750.8 L1229.0 750.8 L1231.0 750.8 L1233.0 750.8 L1235.1 750.8 L1237.1 750.8 L1239.1 750.8 L1241.1 750.8 L1243.1 750.8 L1245.1 750.8 L1247.1 750.8 L1249.1 750.8 L1251.1 750.8 L1253.1 750.9 L1255.1 750.9 L1257.2 750.9 L1259.2 750.9 L1261.2 751.0 L1263.2 751.0 L1265.2 751.0 L1267.2 751.1 L1269.2 751.1 L1271.2 751.2 L1273.2 751.2 L1275.2 751.3 L1277.2 751.4 L1279.2 751.5 L1281.2 751.7 L1283.2 752.0 L1285.2 752.3 L1287.2 752.6 L1289.2 753.0 L1291.1 753.4 L1293.1 753.8 L1295.0 754.3 L1296.9 755.0 L1298.8 755.7 L1300.7 756.5 L1302.5 757.4 L1304.3 758.3 L1306.1 759.3 L1307.7 760.3 L1309.4 761.3 L1311.1 762.5 L1312.7 763.7 L1314.3 765.0 L1315.8 766.3 L1317.3 767.7 L1318.8 769.1 L1320.2 770.5 L1321.5 772.0 L1322.8 773.4 L1324.1 775.0 L1325.3 776.6 L1326.5 778.2 L1327.7 779.8 L1328.9 781.5 L1330.0 783.2 L1331.1 784.9 L1332.1 786.7 L1333.1 788.4 L1334.1 790.1 L1335.1 791.8 L1336.1 793.6 L1337.0 795.4 L1337.9 797.2 L1338.8 799.0 L1339.7 800.8 L1340.5 802.6 L1341.4 804.4 L1342.2 806.2 L1343.1 808.1 L1343.9 809.9 L1344.8 811.7 L1345.6 813.5 L1346.5 815.4 L1347.3 817.2 L1348.1 819.0 L1348.9 820.8 L1349.7 822.7 L1350.5 824.5 L1351.3 826.4 L1352.1 828.2 L1352.9 830.0 L1353.7 831.9 L1354.5 833.7 L1355.3 835.6 L1356.1 837.5 L1356.8 839.3 L1357.6 841.2 L1358.3 843.0 L1359.1 844.9 L1359.9 846.7 L1360.6 848.6 L1361.4 850.5 L1362.1 852.3 L1362.8 854.2 L1363.6 856.1 L1364.3 857.9 L1365.0 859.8 L1365.7 861.7 L1366.4 863.6 L1367.1 865.4 L1367.8 867.3 L1368.6 869.2 L1369.3 871.1 L1370.0 873.0 L1370.6 874.8 L1371.3 876.7 L1372.0 878.6 L1372.7 880.5 L1373.4 882.4 L1374.1 884.3 L1374.8 886.1 L1375.5 888.0 L1376.2 889.9 L1376.9 891.8 L1377.5 893.7 L1378.2 895.6 L1378.9 897.5 L1379.5 899.4 L1380.2 901.3 L1380.9 903.2 L1381.5 905.1 L1382.2 907.0 L1382.8 908.9 L1383.4 910.8 L1384.0 912.7 L1384.6 914.6 L1385.2 916.5 L1385.8 918.4 L1386.4 920.3 L1387.0 922.3 L1387.6 924.2 L1388.2 926.1 L1388.7 928.0 L1389.3 930.0 L1389.9 931.9 L1390.5 933.8 L1391.1 935.7 L1391.7 937.6 L1392.3 939.5 L1392.9 941.4 L1393.6 943.3 L1394.2 945.2 L1394.9 947.1 L1395.6 949.0 L1396.3 950.9 L1397.0 952.8 L1397.6 954.7 L1398.3 956.6 L1398.9 958.5 L1399.5 960.4 L1400.1 962.3 L1400.7 964.2 L1401.2 966.2 L1401.8 968.1 L1402.3 970.0 L1402.9 971.9 L1403.4 973.9 L1403.9 975.8 L1404.5 977.8 L1405.0 979.7 L1405.5 981.6 L1406.0 983.6 L1406.5 985.5 L1407.0 987.5 L1407.5 989.4 L1408.0 991.4 L1408.5 993.3 L1409.0 995.3 L1409.5 997.2 L1410.0 999.1 L1410.5 1001.1 L1411.0 1003.0 L1411.6 1005.0 L1412.1 1006.9 L1412.6 1008.8 L1413.1 1010.8 L1413.6 1012.7 L1414.1 1014.7 L1414.6 1016.6 L1415.1 1018.5 L1415.6 1020.5 L1416.2 1022.4 L1416.7 1024.4 L1417.2 1026.3 L1417.7 1028.3 L1418.2 1030.2 L1418.7 1032.1 L1419.2 1034.1 L1419.7 1036.0 L1420.1 1038.0 L1420.6 1039.9 L1421.1 1041.9 L1421.6 1043.8 L1422.1 1045.8 L1422.6 1047.7 L1423.0 1049.7 L1423.5 1051.6 L1424.0 1053.6 L1424.4 1055.5 L1424.9 1057.5 L1425.4 1059.4 L1425.8 1061.4 L1426.3 1063.3 L1426.8 1065.3 L1427.2 1067.2 L1427.7 1069.2 L1428.1 1071.1 L1428.6 1073.1 L1429.1 1075.1 L1429.5 1077.0 L1430.0 1079.0 L1430.5 1080.9 L1430.9 1082.9 L1431.4 1084.8 L1431.8 1086.8 L1432.3 1088.7 L1432.8 1090.7 L1433.2 1092.6 L1433.7 1094.6 L1434.1 1096.5 L1434.6 1098.5 L1435.0 1100.4 L1435.5 1102.4 L1436.0 1104.4 L1436.4 1106.3 L1436.9 1108.3 L1437.4 1110.2 L1437.8 1112.2 L1438.3 1114.1 L1438.8 1116.1 L1439.3 1118.0 L1439.7 1120.0 L1440.2 1121.9 L1440.6 1123.9 L1441.1 1125.8 L1441.6 1127.8 L1442.1 1129.7 L1442.6 1131.7 L1443.1 1133.6 L1443.7 1135.5 L1444.2 1137.5 L1444.8 1139.4 L1445.4 1141.4 L1446.1 1143.3 L1446.9 1145.1 L1447.8 1146.8 L1449.1 1148.5 L1450.6 1150.1 L1452.2 1151.2 L1453.9 1151.5 L1455.9 1151.8 L1458.0 1152.0 L1460.1 1152.1 L1462.1 1152.1 L1464.1 1152.1 L1466.1 1152.1 L1468.1 1152.1 L1470.1 1152.1 L1472.1 1152.1 L1474.1 1152.1 L1476.1 1152.1 L1478.1 1152.1 L1480.1 1152.1 L1482.1 1152.1 L1484.1 1152.1 L1486.1 1152.1 L1488.1 1152.1 L1490.1 1152.1 L1492.1 1152.1 L1494.1 1152.1 L1496.1 1152.1 L1498.2 1152.1 L1500.2 1152.1 L1502.2 1152.1 L1504.2 1152.1 L1506.2 1152.1 L1508.2 1152.1 L1510.2 1152.1 L1512.2 1152.1 L1514.2 1152.1 L1516.2 1152.1 L1518.2 1152.1 L1520.2 1152.1 L1522.2 1152.1 L1524.2 1152.1 L1526.2 1152.1 L1528.2 1152.1 L1530.2 1152.1 L1532.2 1152.1 L1534.2 1152.1 L1536.2 1152.1 L1538.3 1152.1 L1540.3 1152.1 L1542.3 1152.1 L1544.3 1152.1 L1546.3 1152.1 L1548.3 1152.1 L1550.3 1152.1 L1552.3 1152.1 L1554.3 1152.1 L1556.3 1152.1 L1558.3 1152.1 L1560.3 1152.1 L1562.4 1152.1 L1564.4 1152.1 L1566.4 1152.1 L1568.4 1152.1 L1570.4 1152.1 L1572.4 1152.1 L1574.4 1152.1 L1576.4 1152.1 L1578.4 1152.1 L1580.4 1152.1 L1582.5 1152.1 L1584.5 1152.1 L1586.5 1152.1 L1588.5 1152.1 L1590.5 1152.1 L1592.5 1152.1 L1594.5 1152.1 L1596.5 1152.1 L1598.6 1152.1 L1600.6 1152.1 L1602.6 1152.1 L1604.6 1152.1 L1606.1 1152.1" stroke="#000"/>
</g>
<text transform="translate(1088.9 1254.0) scale(0.993 1.045)" font-size="41.67" fill="#262626">50</text>
<text transform="translate(1239.0 1254.0) scale(0.993 1.045)" font-size="41.67" fill="#262626">100</text>
<text transform="translate(1401.4 1254.0) scale(0.993 1.045)" font-size="41.67" fill="#262626">150</text>
<text transform="translate(1563.8 1254.0) scale(0.993 1.045)" font-size="41.67" fill="#262626">200</text>
<text transform="translate(919.7 753.3) scale(0.993 1.045)" font-size="33.33" fill="#262626">0</text>
<text transform="translate(864.0 770.7) scale(0.993 1.045)" font-size="41.67" fill="#262626">10</text>
<text transform="translate(909.1 1001.8) scale(0.993 1.045)" font-size="33.33" fill="#262626">-5</text>
<text transform="translate(853.4 1019.2) scale(0.993 1.045)" font-size="41.67" fill="#262626">10</text>
<rect x="130.2" y="325.3" width="327" height="152.9" fill="#fff" stroke="#262626" stroke-width="2.40"/>
<path d="M144.1 354.9H282.8" stroke="#f00" stroke-width="4.30" stroke-dasharray="4.17 9.74"/>
<text transform="translate(293.0 367.0) scale(1.000 1.045)" font-size="37.50" fill="#000">HS-BCG</text>
<path d="M144.1 401.8H282.8" stroke="#00f" stroke-width="4.30" stroke-dasharray="34.9 20.8"/>
<text transform="translate(293.0 413.9) scale(1.000 1.045)" font-size="37.50" fill="#000">DP-BCG</text>
<path d="M144.1 448.8H282.8" stroke="#000" stroke-width="4.30"/>
<text transform="translate(293.0 460.9) scale(1.000 1.045)" font-size="37.50" fill="#000">DR-BCG</text>
</svg>
</body></html>
